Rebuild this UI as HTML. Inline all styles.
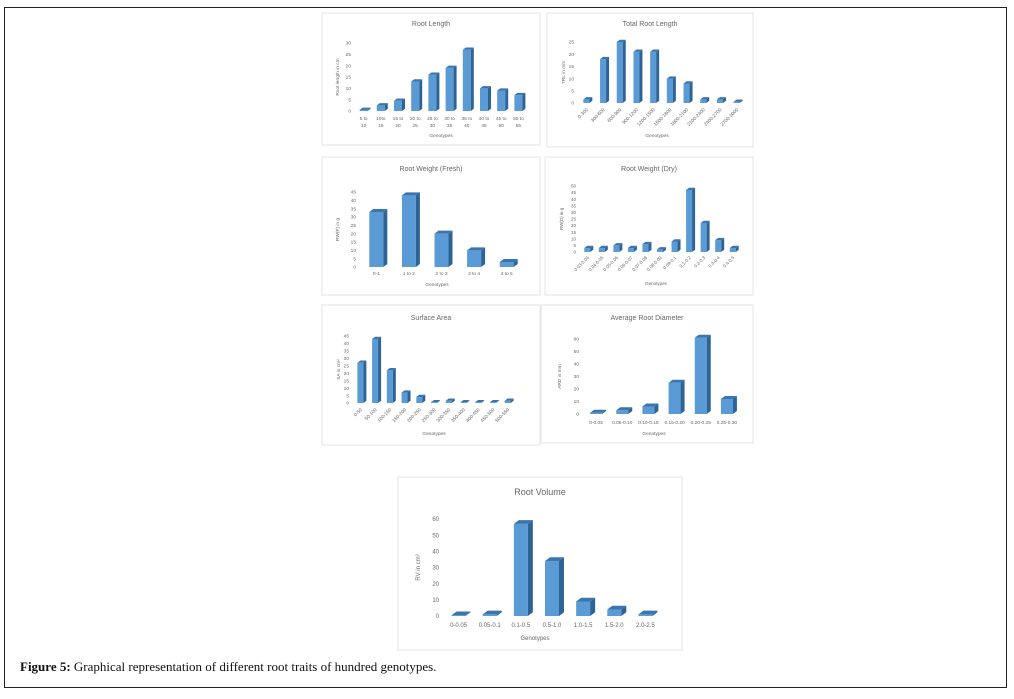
<!DOCTYPE html>
<html><head><meta charset="utf-8">
<style>
html,body{margin:0;padding:0;background:#fff;width:1014px;height:699px;overflow:hidden}
#frame{position:absolute;left:4px;top:7px;width:1003px;height:681px;border:1px solid #222;box-sizing:border-box}
#caption{position:absolute;left:20px;top:659px;font-family:"Liberation Serif",serif;font-size:13px;color:#111}
svg{position:absolute;left:0;top:0}
text{font-family:"Liberation Sans",sans-serif;fill:#666}
</style></head><body>
<div id="frame"></div>
<div id="caption"><b>Figure 5:</b> Graphical representation of different root traits of hundred genotypes.</div>
<svg id="svg" width="1014" height="699"></svg>
<script>
// ---- data ----
const rlCats=[["5 to","10"],["10to","15"],["15 to","20"],["20 to","25"],["25 to","30"],["30 to","35"],["35 to","40"],["40 to","45"],["45 to","50"],["50 to","55"]];
const rlVals=[0.5,2.5,4.5,13,16,19,27,10,9,7];
const rlTicks=[0,5,10,15,20,25,30];
const trlCats=["0-300","300-600","600-900","900-1200","1200-1500","1500-1800","1800-2100","2100-2400","2400-2700","2700-3000"];
const trlVals=[1.5,18,25,21,21,10,8,1.5,1.5,0.5];
const trlTicks=[0,5,10,15,20,25];
const rwfCats=["0-1","1 to 2","2 to 3","3 to 4","4 to 5"];
const rwfVals=[33,43,20,10,3];
const rwfTicks=[0,5,10,15,20,25,30,35,40,45];
const rwdCats=["0.03-0.04","0.04-0.05","0.05-0.06","0.06-0.07","0.07-0.08","0.08-0.09","0.09-0.1","0.1-0.2","0.2-0.3","0.3-0.4","0.4-0.5"];
const rwdVals=[3,3,5,3,6,2,8,47,22,9,3];
const rwdTicks=[0,5,10,15,20,25,30,35,40,45,50];
const saCats=["0-50","50-100","100-150","150-200","200-250","250-300","300-350","350-400","400-450","450-500","500-550"];
const saVals=[27,43,22,7,4,0.5,1.5,0.5,0.5,0.5,1.5];
const saTicks=[0,5,10,15,20,25,30,35,40,45];
const ardCats=["0-0.05","0.05-0.10","0.10-0.15","0.15-0.20","0.20-0.25","0.25-0.30"];
const ardVals=[1,3,6,25,61,12];
const ardTicks=[0,10,20,30,40,50,60];
const rvCats=["0-0.05","0.05-0.1","0.1-0.5","0.5-1.0","1.0-1.5","1.5-2.0","2.0-2.5"];
const rvVals=[0.5,1,57,34,9,4,1];
const rvTicks=[0,10,20,30,40,50,60];

const NS="http://www.w3.org/2000/svg";
const svg=document.getElementById('svg');
function mk(tag,attrs,parent){const e=document.createElementNS(NS,tag);for(const k in attrs)e.setAttribute(k,attrs[k]);(parent||svg).appendChild(e);return e;}

function chart(c,cats,vals,ticks){
  const g=mk('g',{});
  
  
  const box=mk('rect',{x:c.bx,y:c.by,width:c.bw,height:c.bh,fill:'#fff',stroke:'#e6e6e6','stroke-width':1},g);
  
  
  const t=mk('text',{x:c.bx+c.bw/2,y:c.ty,'text-anchor':'middle','font-size':c.tfs},g);t.textContent=c.title;
  
  
  const tmax=ticks[ticks.length-1];
  const y=v=>c.y0-(v/tmax)*(c.y0-c.yTop);
  const band=(c.x1-c.x0)/cats.length;
  const xc=i=>c.x0+band*(i+0.5);
  ticks.forEach(v=>{const tt=mk('text',{x:c.x0-4,y:y(v)+c.fs/2.8,'text-anchor':'end','font-size':c.fs},g);tt.textContent=v;
    
    });
  const d=c.d, dy=c.d*0.75;
  vals.forEach((v,i)=>{
    const x=xc(i)-c.bwid/2, yt=y(v), w=c.bwid, y0=c.y0;
    const bg=mk('g',{},g);
    
    
    mk('rect',{x:x,y:yt,width:w,height:Math.max(0.5,y0-yt),fill:'#5b9bd5'},bg);
    mk('polygon',{points:`${x+w},${yt} ${x+w+d},${yt-dy} ${x+w+d},${y0-dy} ${x+w},${y0}`,fill:'#2e6396'},bg);
    mk('polygon',{points:`${x},${yt} ${x+d},${yt-dy} ${x+w+d},${yt-dy} ${x+w},${yt}`,fill:'#3a75ad'},bg);
  });
  cats.forEach((cat,i)=>{
    let tt;
    if(c.rot){tt=mk('text',{x:xc(i)+2,y:c.ly,'text-anchor':'end','font-size':c.fs,transform:`rotate(-45 ${xc(i)+2} ${c.ly})`},g);tt.textContent=cat;}
    else if(Array.isArray(cat)){tt=mk('text',{x:xc(i),y:c.ly,'text-anchor':'middle','font-size':c.fs},g);
      cat.forEach((s,j)=>{const sp=mk('tspan',{x:xc(i),dy:j?c.fs*1.5:0},tt);sp.textContent=s;});}
    else{tt=mk('text',{x:xc(i),y:c.ly,'text-anchor':'middle','font-size':c.fs},g);tt.textContent=cat;}
    
    
  });
  const xt=mk('text',{x:c.gx,y:c.gy,'text-anchor':'middle','font-size':c.fs},g);xt.textContent='Genotypes';
  
  
  const yl=(c.y0+c.yTop)/2;
  const ya=mk('text',{x:c.yx,y:yl,'text-anchor':'middle','font-size':c.fs,transform:`rotate(-90 ${c.yx} ${yl})`},g);ya.textContent=c.ylab;
  
  
}

chart({name:'root-length-chart',title:'Root Length',bx:322,by:13,bw:218,bh:132,ty:26,tfs:7,fs:4.8,x0:355,x1:527,y0:111,yTop:43,bwid:8,d:3,ly:120,gx:441,gy:137,yx:339,ylab:'Root  length in cm'},rlCats,rlVals,rlTicks);
chart({name:'total-root-length-chart',title:'Total Root Length',bx:547,by:13,bw:206,bh:134,ty:26,tfs:7,fs:4.8,x0:578,x1:745,y0:103,yTop:42,bwid:6,d:3,ly:110,rot:true,gx:657,gy:137,yx:565,ylab:'TRL in mm'},trlCats,trlVals,trlTicks);
chart({name:'root-weight-fresh-chart',title:'Root Weight (Fresh)',bx:322,by:157,bw:218,bh:138,ty:171,tfs:7,fs:4.8,x0:360,x1:523,y0:267,yTop:192,bwid:14,d:4,ly:275,gx:437,gy:286,yx:339,ylab:'RW(F) in g'},rwfCats,rwfVals,rwfTicks);
chart({name:'root-weight-dry-chart',title:'Root Weight (Dry)',bx:545,by:157,bw:208,bh:138,ty:171,tfs:7,fs:4.5,x0:580,x1:740,y0:252,yTop:186,bwid:6,d:3,ly:258,rot:true,gx:656,gy:285,yx:563,ylab:'RW(D) in g'},rwdCats,rwdVals,rwdTicks);
chart({name:'surface-area-chart',title:'Surface Area',bx:322,by:305,bw:218,bh:140,ty:320,tfs:7,fs:4.8,x0:353,x1:515,y0:403,yTop:336,bwid:6,d:3,ly:410,rot:true,gx:434,gy:435,yx:340,ylab:'SA in cm²'},saCats,saVals,saTicks);
chart({name:'average-root-diameter-chart',title:'Average Root Diameter',bx:541,by:305,bw:212,bh:138,ty:320,tfs:7,fs:4.8,x0:583,x1:740,y0:414,yTop:339,bwid:12,d:4,ly:424,gx:654,gy:435,yx:561,ylab:'ARD in mm'},ardCats,ardVals,ardTicks);
chart({name:'root-volume-chart',title:'Root Volume',bx:398,by:477,bw:284,bh:173,ty:495,tfs:9,fs:6,x0:443,x1:661,y0:616,yTop:519,bwid:14,d:5,ly:627,gx:535,gy:640,yx:420,ylab:'RV in cm³'},rvCats,rvVals,rvTicks);
</script>
</body></html>
